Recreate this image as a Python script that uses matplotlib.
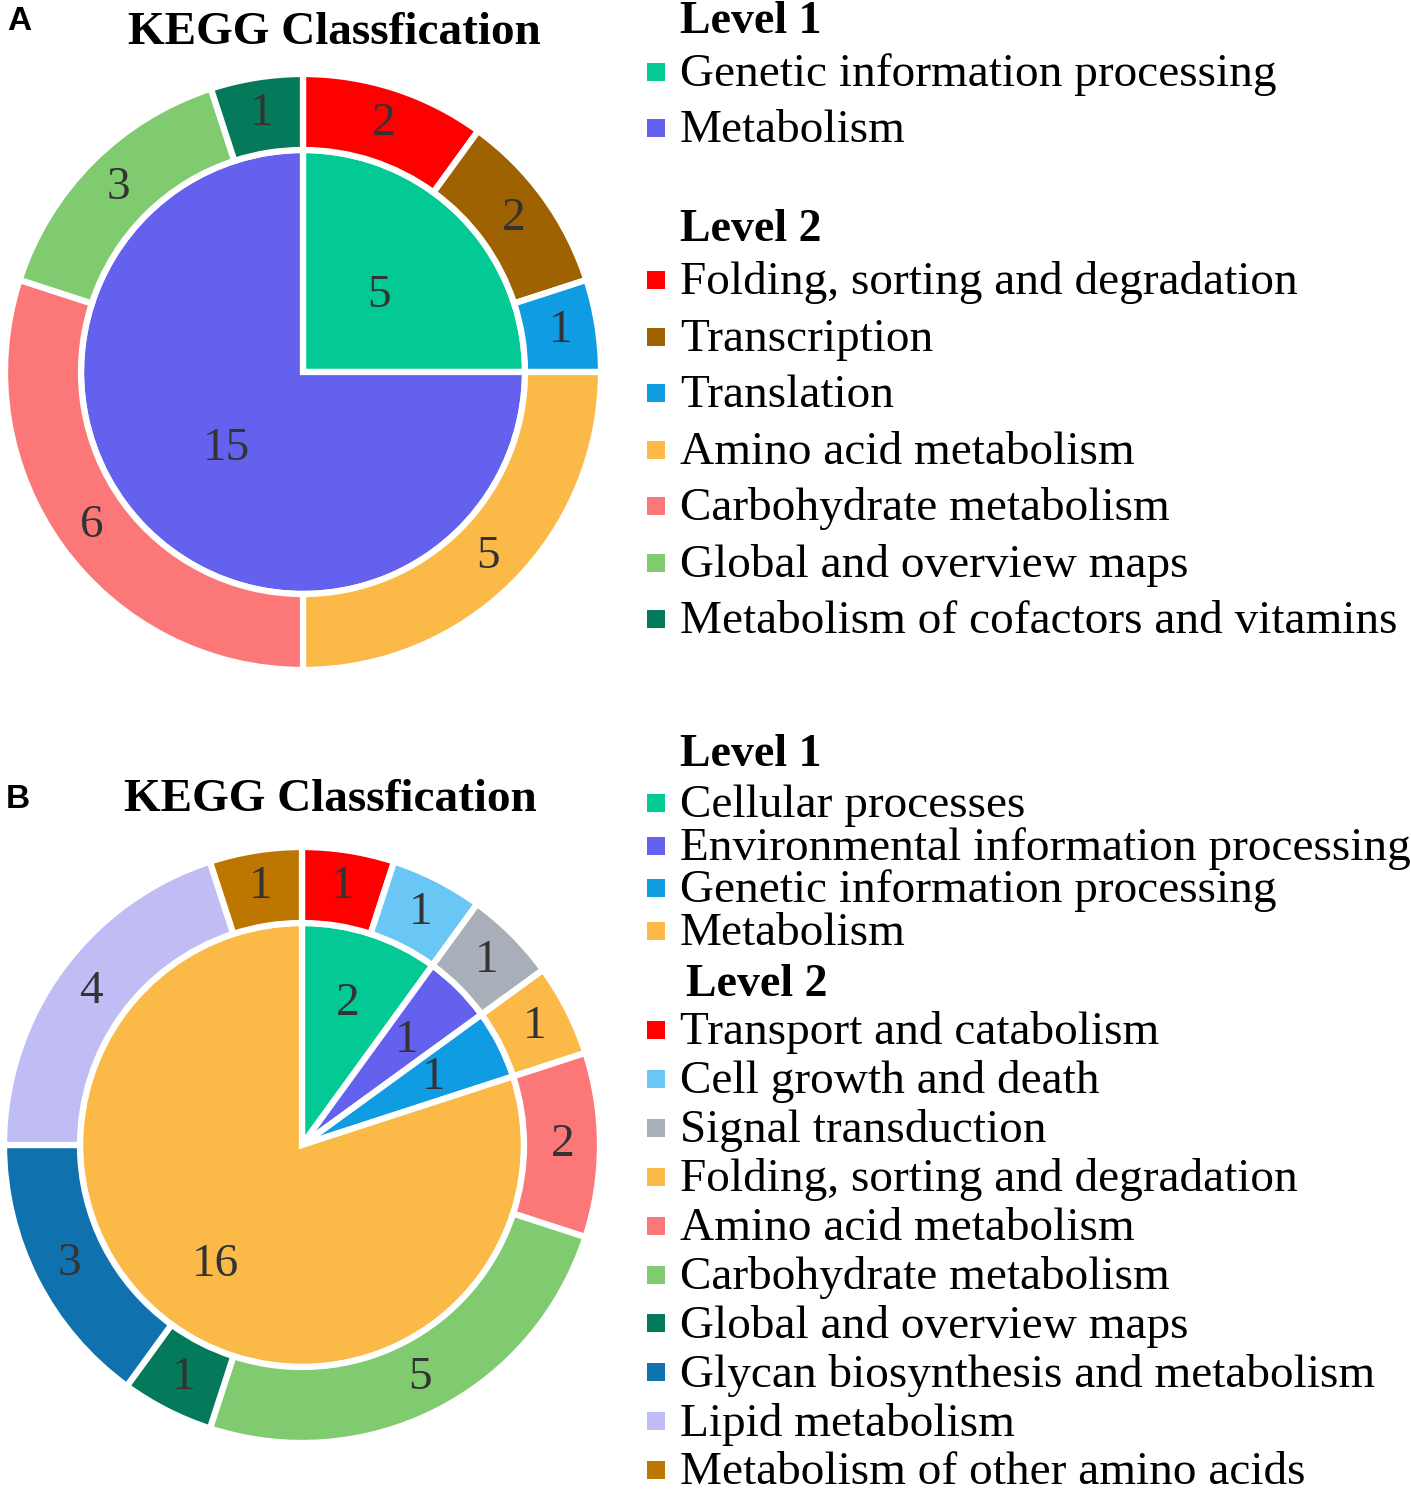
import matplotlib.pyplot as plt
import numpy as np

# ---- panel A data ----
a_level1 = ["Genetic information processing", "Metabolism"]
a_level1_vals = [5, 15]
a_level1_cols = ["#03C995", "#6461EE"]

a_level2 = ["Folding, sorting and degradation", "Transcription", "Translation",
            "Amino acid metabolism", "Carbohydrate metabolism",
            "Global and overview maps", "Metabolism of cofactors and vitamins"]
a_level2_vals = [2, 2, 1, 5, 6, 3, 1]
a_level2_cols = ["#FF0000", "#9F6200", "#109CE2", "#FBB948", "#FC7878",
                 "#80CA6F", "#047A5A"]

# ---- panel B data ----
b_level1 = ["Cellular processes", "Environmental information processing",
            "Genetic information processing", "Metabolism"]
b_level1_vals = [2, 1, 1, 16]
b_level1_cols = ["#03C995", "#6461EE", "#109CE2", "#FBB948"]

b_level2 = ["Transport and catabolism", "Cell growth and death", "Signal transduction",
            "Folding, sorting and degradation", "Amino acid metabolism",
            "Carbohydrate metabolism", "Global and overview maps",
            "Glycan biosynthesis and metabolism", "Lipid metabolism",
            "Metabolism of other amino acids"]
b_level2_vals = [1, 1, 1, 1, 2, 5, 1, 3, 4, 1]
b_level2_cols = ["#FF0000", "#6AC6F4", "#A8AFB8", "#FBB948", "#FC7878",
                 "#80CA6F", "#047A5A", "#0F71AD", "#C0BDF5", "#BD7600"]

W, H = 1411, 1495
SERIF = "Liberation Serif"
LW = 4.5  # white separator width (pt)
FS = 34

fig = plt.figure(figsize=(W / 100, H / 100), dpi=100)
ax = fig.add_axes([0, 0, 1, 1])


def py(y):
    # pixel row -> data y
    return H - y


def draw_ring(values, colors, cx, cy, r, width, label_r):
    wedges, _ = ax.pie(values, colors=colors, startangle=90, counterclock=False,
                       center=(cx, py(cy)), radius=r, frame=True,
                       wedgeprops=dict(width=width, edgecolor="white", linewidth=LW))
    for w, v in zip(wedges, values):
        ang = np.deg2rad((w.theta1 + w.theta2) / 2)
        ax.text(cx + label_r * np.cos(ang), py(cy) + label_r * np.sin(ang), str(v),
                ha="center", va="center", fontsize=FS, family=SERIF, color="#333333")


def legend_block(x, y0, step, items, colors):
    for i, (name, c) in enumerate(zip(items, colors)):
        y = y0 + step * i
        ax.add_patch(plt.Rectangle((647, py(y) - 9), 18, 18, color=c, lw=0))
        ax.text(x, py(y + 3), name, ha="left", va="center", fontsize=FS, family=SERIF)


def heading(x, y, s):
    ax.text(x, py(y), s, ha="left", va="center", fontsize=FS - 1, family=SERIF,
            fontweight="bold", color="black")


# panel A
draw_ring(a_level1_vals, a_level1_cols, 303, 372, 222, None, 108)
draw_ring(a_level2_vals, a_level2_cols, 303, 372, 298, 76, 261)
ax.text(334, py(33), "KEGG Classfication", ha="center", va="center", fontsize=FS,
        family=SERIF, fontweight="bold")
ax.text(7, py(22), "A", ha="left", va="center", fontsize=24,
        family="Liberation Sans", fontweight="bold")

heading(680, 22, "Level 1")
legend_block(680, 72, 56, a_level1, a_level1_cols)
heading(680, 230, "Level 2")
legend_block(680, 280, 56.5, a_level2, a_level2_cols)

# panel B
draw_ring(b_level1_vals, b_level1_cols, 302, 1145, 222, None, 148)
draw_ring(b_level2_vals, b_level2_cols, 302, 1145, 298, 76, 261)
ax.text(330, py(800), "KEGG Classfication", ha="center", va="center", fontsize=FS,
        family=SERIF, fontweight="bold")
ax.text(6, py(800), "B", ha="left", va="center", fontsize=24,
        family="Liberation Sans", fontweight="bold")

heading(680, 755, "Level 1")
legend_block(680, 803, 42.5, b_level1, b_level1_cols)
heading(686, 985, "Level 2")
legend_block(680, 1030, 48.9, b_level2, b_level2_cols)

ax.set_xlim(0, W)
ax.set_ylim(0, H)
ax.set_aspect("equal")
ax.axis("off")

fig.savefig("out.png", dpi=100, facecolor="white")
